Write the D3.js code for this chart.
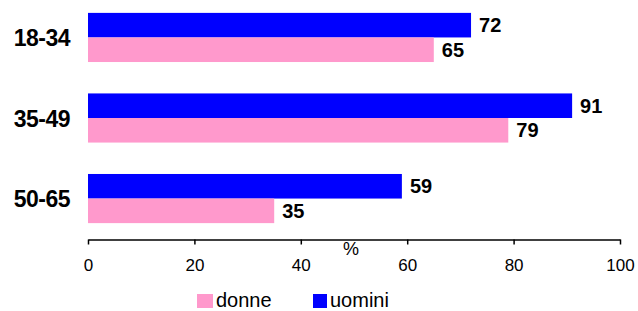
<!DOCTYPE html>
<html>
<head>
<meta charset="utf-8">
<script src="https://cdn.jsdelivr.net/npm/d3@7"></script>
<style>
  body { margin: 0; background: #fff; }
  text { font-family: "Liberation Sans", Arial, sans-serif; fill: #000; }
</style>
</head>
<body>
<div id="chart"></div>
<script>
var categorie = ["18-34", "35-49", "50-65"];
var serie = ["uomini", "donne"];
var uomini = [72, 91, 59];
var donne = [65, 79, 35];
var ticks = [0, 20, 40, 60, 80, 100];

var colori = { uomini: "#0000ff", donne: "#ff99cc" };

var width = 638, height = 311;
var axisY = 239.5;

var svg = d3.select("#chart").append("svg")
    .attr("width", width)
    .attr("height", height);

var x = d3.scaleLinear()
    .domain([0, 100])
    .range([88, 620]);

var y = d3.scaleBand()
    .domain(categorie)
    .range([0, 236])
    .paddingInner(0.39)
    .paddingOuter(0.16);

var ySub = d3.scaleBand()
    .domain(serie)
    .range([0, y.bandwidth()]);

var rows = categorie.map((c, i) => ({ cat: c, uomini: uomini[i], donne: donne[i] }));

var gruppi = svg.append("g")
    .selectAll("g")
    .data(rows)
    .enter().append("g")
    .attr("transform", d => "translate(0," + y(d.cat) + ")");

gruppi.selectAll("rect")
    .data(d => serie.map(s => ({ s: s, v: d[s] })))
    .enter().append("rect")
    .attr("x", x(0))
    .attr("y", d => ySub(d.s))
    .attr("width", d => x(d.v) - x(0))
    .attr("height", ySub.bandwidth())
    .attr("fill", d => colori[d.s]);

gruppi.selectAll("text.val")
    .data(d => serie.map(s => ({ s: s, v: d[s] })))
    .enter().append("text")
    .attr("class", "val")
    .attr("x", d => x(d.v) + 8)
    .attr("y", d => ySub(d.s) + ySub.bandwidth() / 2 + 7)
    .style("font-size", "20px")
    .style("font-weight", "bold")
    .text(d => d.v);

// etichette categorie
svg.append("g")
    .selectAll("text")
    .data(categorie)
    .enter().append("text")
    .attr("x", 70)
    .attr("y", d => y(d) + y.bandwidth() / 2 + 8.5)
    .attr("text-anchor", "end")
    .style("font-size", "23px")
    .style("font-weight", "bold")
    .style("letter-spacing", "-0.5px")
    .text(d => d);

// asse x
var axis = svg.append("g")
    .attr("transform", "translate(0," + axisY + ")")
    .call(d3.axisBottom(x)
        .tickValues(ticks)
        .tickSize(5)
        .tickSizeOuter(0)
        .tickPadding(14));

axis.select(".domain").attr("stroke", "#000").attr("stroke-width", 1.5);
axis.selectAll(".tick line").attr("stroke", "#000").attr("stroke-width", 1.5);
axis.selectAll(".tick text")
    .style("font-size", "17px")
    .style("font-family", "'Liberation Sans', Arial, sans-serif")
    .attr("fill", "#000");

svg.append("text")
    .attr("x", 351)
    .attr("y", 255)
    .attr("text-anchor", "middle")
    .style("font-size", "18px")
    .text("%");

// legenda
var legenda = [
    { nome: "donne", col: colori.donne, x: 197 },
    { nome: "uomini", col: colori.uomini, x: 313 }
];

var leg = svg.append("g")
    .selectAll("g")
    .data(legenda)
    .enter().append("g")
    .attr("transform", d => "translate(" + d.x + ",294)");

leg.append("rect")
    .attr("width", d => d.nome == "donne" ? 16 : 14)
    .attr("height", 14)
    .attr("fill", d => d.col);

leg.append("text")
    .attr("x", d => d.nome == "donne" ? 19 : 17)
    .attr("y", 13)
    .style("font-size", "20px")
    .text(d => d.nome);
</script>
</body>
</html>
